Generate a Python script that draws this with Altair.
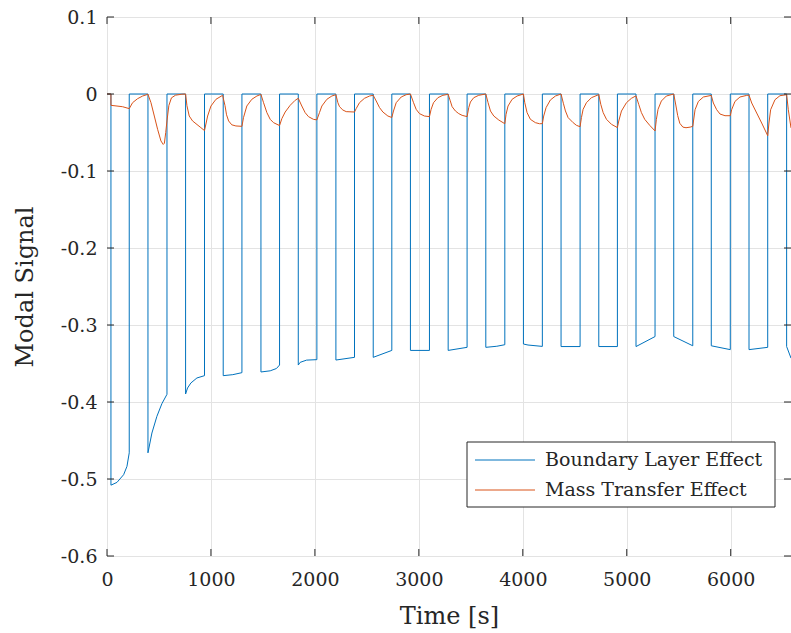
import altair as alt
import pandas as pd

series_names = ["Boundary Layer Effect", "Mass Transfer Effect"]
series_colors = ["#0072BD", "#D95319"]

x_ticks = [0, 1000, 2000, 3000, 4000, 5000, 6000]
y_ticks = [-0.6, -0.5, -0.4, -0.3, -0.2, -0.1, 0.0, 0.1]

blue_t = [0, 38, 38, 96, 160, 192, 214, 214, 394,
          394, 432, 480, 528, 577, 577, 756,
          756, 775, 807, 865, 938, 938, 1118,
          1118, 1210, 1298, 1298, 1481,
          1481, 1570, 1630, 1660, 1660, 1840,
          1840, 1858, 1920, 2019, 2019, 2202,
          2202, 2381, 2381, 2561,
          2561, 2740, 2740, 2919,
          2919, 3102, 3102, 3282,
          3282, 3464, 3464, 3644,
          3644, 3750, 3827, 3827, 4006,
          4006, 4050, 4188, 4188, 4368,
          4368, 4551, 4551, 4731,
          4731, 4910, 4910, 5089,
          5089, 5272, 5272, 5452,
          5452, 5635, 5635, 5813,
          5813, 5996, 5996, 6176,
          6176, 6356, 6356, 6538,
          6538, 6580]
blue_v = [0, 0, -0.508, -0.5044, -0.4944, -0.4836, -0.466, 0, 0,
          -0.466, -0.4403, -0.4186, -0.4022, -0.390, 0, 0,
          -0.3896, -0.3818, -0.3753, -0.3688, -0.3658, 0, 0,
          -0.3658, -0.3645, -0.3619, 0, 0,
          -0.361, -0.3595, -0.3565, -0.352, 0, 0,
          -0.352, -0.3485, -0.3456, -0.345, 0, 0,
          -0.3455, -0.342, 0, 0,
          -0.342, -0.333, 0, 0,
          -0.333, -0.333, 0, 0,
          -0.333, -0.329, 0, 0,
          -0.329, -0.3276, -0.3256, 0, 0,
          -0.3247, -0.326, -0.3278, 0, 0,
          -0.328, -0.328, 0, 0,
          -0.328, -0.328, 0, 0,
          -0.328, -0.315, 0, 0,
          -0.315, -0.327, 0, 0,
          -0.327, -0.332, 0, 0,
          -0.332, -0.329, 0, 0,
          -0.328, -0.343]

orange_t = [0, 38, 38, 150, 214,
            246, 294, 343, 394,
            423, 455, 487, 519, 541, 552,
            565, 577, 595, 620, 660, 720, 756,
            769, 791, 823, 903, 938,
            968, 1000, 1048, 1112,
            1135, 1150, 1170, 1200, 1240, 1298,
            1313, 1345, 1393, 1442, 1481,
            1506, 1538, 1570, 1602, 1660,
            1682, 1714, 1762, 1810, 1840,
            1874, 1906, 1938, 1986, 2019,
            2044, 2067, 2115, 2163, 2202,
            2221, 2237, 2269, 2301, 2381,
            2397, 2429, 2477, 2526, 2561,
            2590, 2622, 2654, 2702, 2740,
            2756, 2782, 2830, 2878, 2919,
            2949, 2974, 3006, 3054, 3102,
            3118, 3141, 3183, 3231, 3282,
            3300, 3320, 3352, 3384, 3416, 3464,
            3480, 3496, 3528, 3576, 3644,
            3666, 3689, 3721, 3769, 3827,
            3839, 3858, 3897, 3945, 4006,
            4019, 4041, 4073, 4121, 4160, 4188,
            4201, 4224, 4265, 4314, 4368,
            4390, 4410, 4436, 4484, 4516, 4551,
            4564, 4580, 4612, 4660, 4731,
            4750, 4773, 4805, 4853, 4910,
            4923, 4949, 4997, 5045, 5089,
            5115, 5141, 5173, 5221, 5272,
            5285, 5301, 5333, 5381, 5452,
            5470, 5490, 5510, 5540, 5570, 5610, 5635,
            5657, 5689, 5737, 5813,
            5833, 5865, 5897, 5945, 5996,
            6009, 6041, 6089, 6154, 6176,
            6202, 6250, 6298, 6356,
            6368, 6384, 6426, 6474, 6538,
            6554, 6580]
orange_v = [0, 0, -0.0147, -0.0165, -0.019,
            -0.0113, -0.0061, -0.0026, -0.0004,
            -0.0113, -0.0286, -0.0459, -0.061, -0.0655, -0.064,
            -0.050, -0.035, -0.015, -0.005, -0.0015, -0.0003, 0,
            -0.0152, -0.0286, -0.035, -0.0437, -0.0475,
            -0.0286, -0.0156, -0.0069, -0.0017,
            -0.015, -0.027, -0.035, -0.040, -0.0415, -0.042,
            -0.0307, -0.0156, -0.0069, -0.0026, -0.0005,
            -0.0113, -0.0242, -0.0329, -0.0372, -0.041,
            -0.032, -0.0234, -0.0147, -0.0082, -0.0056,
            -0.0156, -0.0242, -0.0294, -0.0329, -0.0336,
            -0.0242, -0.0156, -0.0069, -0.0026, -0.0009,
            -0.0113, -0.0165, -0.0208, -0.0229, -0.0234,
            -0.019, -0.0113, -0.0056, -0.0026, -0.0017,
            -0.0091, -0.0177, -0.0234, -0.0286, -0.0305,
            -0.0221, -0.0113, -0.0039, -0.0009, 0,
            -0.0113, -0.0199, -0.0255, -0.0286, -0.0294,
            -0.0199, -0.0113, -0.0048, -0.0017, -0.0004,
            -0.008, -0.0165, -0.0221, -0.0255, -0.0277, -0.0294,
            -0.0177, -0.0104, -0.0048, -0.0017, 0,
            -0.0113, -0.0221, -0.0286, -0.0338, -0.0386,
            -0.0264, -0.0156, -0.0069, -0.0026, 0,
            -0.0113, -0.0242, -0.0329, -0.0372, -0.0386, -0.0385,
            -0.0286, -0.0177, -0.0078, -0.0026, 0,
            -0.012, -0.022, -0.0307, -0.0372, -0.0407, -0.0425,
            -0.0307, -0.0199, -0.0113, -0.0048, -0.0008,
            -0.0134, -0.0242, -0.0329, -0.0394, -0.0436,
            -0.0351, -0.0221, -0.0113, -0.0056, -0.0024,
            -0.0134, -0.0242, -0.0329, -0.0407, -0.048,
            -0.0329, -0.0199, -0.0091, -0.0026, 0,
            -0.013, -0.028, -0.038, -0.043, -0.0438, -0.043, -0.042,
            -0.0204, -0.0096, -0.0039, -0.0018,
            -0.0117, -0.0204, -0.026, -0.0282, -0.0282,
            -0.0204, -0.0096, -0.0039, -0.0018, -0.0015,
            -0.0117, -0.0247, -0.0377, -0.0542,
            -0.0377, -0.0204, -0.0074, -0.0022, -0.0009,
            -0.0204, -0.044]

blue_df = pd.DataFrame({"t": blue_t, "v": blue_v, "series": series_names[0],
                        "i": list(range(len(blue_t)))})
orange_df = pd.DataFrame({"t": orange_t, "v": orange_v, "series": series_names[1],
                          "i": list(range(len(orange_t)))})
xtick_df = pd.DataFrame({"t": x_ticks})
ytick_df = pd.DataFrame({"v": y_ticks})

W, H = 684, 539
FONT = "DejaVu Serif"
INK = "#262626"
TICK = 7

xs = alt.Scale(domain=[0, 6580], nice=False, zero=False)
ys = alt.Scale(domain=[-0.6, 0.1], nice=False, zero=False)

color = alt.Color(
    "series:N",
    scale=alt.Scale(domain=series_names, range=series_colors),
    legend=None,
)

xaxis = alt.Axis(values=x_ticks, format="d", ticks=False, domain=False,
                 grid=True, gridColor="#e3e3e3", labelFont=FONT, labelFontSize=19,
                 labelColor=INK, labelPadding=14, labelFlush=False,
                 title="Time [s]", titleFont=FONT,
                 titleFontSize=24, titleFontWeight="normal", titleColor=INK,
                 titleX=W / 2, titleY=60, titleBaseline="middle", titleAlign="center")
yaxis = alt.Axis(values=y_ticks, ticks=False, domain=False, grid=True, gridColor="#e3e3e3",
                 labelExpr="datum.value == 0 ? '0' : replace(format(datum.value, '.1f'), '\u2212', '-')",
                 labelFont=FONT, labelFontSize=19, labelColor=INK, labelPadding=10,
                 labelFlush=False,
                 title="Modal Signal", titleFont=FONT, titleFontSize=24,
                 titleFontWeight="normal", titleColor=INK, titleAngle=270,
                 titleX=-82, titleY=H / 2, titleBaseline="middle", titleAlign="center")

blue_line = alt.Chart(blue_df).mark_line(strokeWidth=1, clip=True).encode(
    x=alt.X("t:Q", scale=xs, axis=xaxis),
    y=alt.Y("v:Q", scale=ys, axis=yaxis),
    color=color,
    order="i:Q",
)
orange_line = alt.Chart(orange_df).mark_line(strokeWidth=1, clip=True).encode(
    x=alt.X("t:Q", scale=xs),
    y=alt.Y("v:Q", scale=ys),
    color=color,
    order="i:Q",
)

xt_bottom = alt.Chart(xtick_df).mark_rule(color=INK, strokeWidth=1).encode(
    x=alt.X("t:Q", scale=xs), y=alt.value(H), y2=alt.value(H - TICK))
xt_top = alt.Chart(xtick_df).mark_rule(color=INK, strokeWidth=1).encode(
    x=alt.X("t:Q", scale=xs), y=alt.value(0), y2=alt.value(TICK))
yt_left = alt.Chart(ytick_df).mark_rule(color=INK, strokeWidth=1).encode(
    y=alt.Y("v:Q", scale=ys), x=alt.value(0), x2=alt.value(TICK))
yt_right = alt.Chart(ytick_df).mark_rule(color=INK, strokeWidth=1).encode(
    y=alt.Y("v:Q", scale=ys), x=alt.value(W), x2=alt.value(W - TICK))

# legend (drawn as marks inside the plot area)
LX0, LX1, LY0, LY1 = 360, 668, 425, 490
ROW_Y = [443, 473]
leg_box = alt.Chart(pd.DataFrame({"k": [0]})).mark_rect(
    fill="white", stroke=INK, strokeWidth=1).encode(
    x=alt.value(LX0), x2=alt.value(LX1), y=alt.value(LY0), y2=alt.value(LY1))
leg_layers = [leg_box]
for name, col, ry in zip(series_names, series_colors, ROW_Y):
    leg_layers.append(
        alt.Chart(pd.DataFrame({"k": [0]})).mark_rule(color=col, strokeWidth=1).encode(
            x=alt.value(LX0 + 8), x2=alt.value(LX0 + 68), y=alt.value(ry)))
    leg_layers.append(
        alt.Chart(pd.DataFrame({"k": [0]})).mark_text(
            text=name, font=FONT, fontSize=19, color=INK, align="left",
            baseline="middle").encode(x=alt.value(LX0 + 78), y=alt.value(ry)))

chart = alt.layer(blue_line, orange_line, xt_bottom, xt_top, yt_left, yt_right,
                  *leg_layers).properties(
    width=W, height=H,
    padding={"left": 107, "top": 17, "right": 0, "bottom": 77},
    autosize=alt.AutoSizeParams(type="none"),
).configure_view(stroke=INK, strokeWidth=1).configure_axis(
    labelFont=FONT, titleFont=FONT, labelFontSize=19, labelColor=INK, labelFlush=False
).configure(background="white")

chart.save("out.html", embed_options={"renderer": "svg", "actions": False})
